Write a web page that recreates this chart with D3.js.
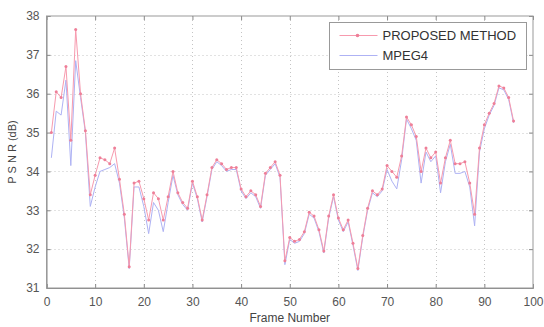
<!DOCTYPE html>
<html>
<head>
<meta charset="utf-8">
<script src="https://cdn.jsdelivr.net/npm/d3@7"></script>
<style>
  body { margin: 0; background: #fff; }
  text { font-family: "Liberation Sans", Arial, sans-serif; }
</style>
</head>
<body>
<script>

// Frame numbers 1..96
const frames = d3.range(1, 97)

// PSNR of the proposed method (dB)
const proposed = [
  35.0, 36.05, 35.9, 36.7, 34.8, 37.65, 36.0, 35.05, 33.4, 33.9,
  34.35, 34.3, 34.2, 34.6, 33.8, 32.9, 31.55, 33.7, 33.75, 33.3,
  32.75, 33.45, 33.3, 32.75, 33.35, 34.0, 33.45, 33.2, 33.05, 33.75,
  33.35, 32.75, 33.4, 34.1, 34.3, 34.2, 34.05, 34.1, 34.1, 33.55,
  33.35, 33.5, 33.4, 33.1, 33.95, 34.1, 34.25, 33.9, 31.7, 32.3,
  32.2, 32.25, 32.45, 32.95, 32.85, 32.5, 31.95, 32.85, 33.4, 32.8,
  32.5, 32.75, 32.15, 31.5, 32.35, 33.05, 33.5, 33.4, 33.55, 34.15,
  34.0, 33.85, 34.4, 35.4, 35.2, 34.9, 34.0, 34.6, 34.35, 34.5,
  33.7, 34.35, 34.8, 34.2, 34.2, 34.25, 33.7, 32.9, 34.6, 35.2,
  35.5, 35.75, 36.2, 36.15, 35.9, 35.3
]

// PSNR of MPEG4 (dB)
const mpeg4 = [
  34.35, 35.55, 35.45, 36.35, 34.15, 36.85, 35.9, 35.0, 33.1, 33.6,
  34.0, 34.05, 34.1, 34.2, 33.7, 32.8, 31.5, 33.6, 33.6, 33.1,
  32.4, 33.2, 33.0, 32.45, 33.2, 33.9, 33.4, 33.15, 33.0, 33.7,
  33.3, 32.7, 33.35, 34.05, 34.25, 34.15, 34.0, 34.05, 34.05, 33.5,
  33.3, 33.45, 33.35, 33.05, 33.9, 34.05, 34.2, 33.85, 31.6, 32.25,
  32.15, 32.2, 32.4, 32.9, 32.8, 32.45, 31.9, 32.8, 33.35, 32.75,
  32.45, 32.7, 32.1, 31.45, 32.3, 33.0, 33.45, 33.35, 33.5, 34.05,
  33.75, 33.55, 34.3, 35.35, 35.1, 34.8, 33.7, 34.5, 34.25, 34.4,
  33.45, 34.25, 34.7, 33.95, 33.95, 34.0, 33.6, 32.6, 34.5, 35.1,
  35.45, 35.7, 36.15, 36.1, 35.85, 35.25
]

const xTicks = d3.range(0, 101, 10)
const yTicks = d3.range(31, 39, 1)
const seriesNames = ["PROPOSED METHOD", "MPEG4"]


const WIDTH = 544, HEIGHT = 327
const LEFT = 46.5, RIGHT = 533, TOP = 16, BOTTOM = 288

const RED = "#f79aae", BLUE = "#aeb2f4", DOT = "#ee7f98"

let svg = d3.select("body").append("svg")
    .attr("width", WIDTH)
    .attr("height", HEIGHT)

let x = d3.scaleLinear().domain([0, 100]).range([LEFT, RIGHT])
let y = d3.scaleLinear().domain([31, 38]).range([BOTTOM, TOP])

// dotted grid
let grid = svg.append("g")
    .attr("stroke", "#c4c4c4")
    .attr("stroke-width", 1)
    .attr("stroke-dasharray", "1,3")

grid.selectAll("line.gx")
    .data(xTicks.slice(1, -1))
    .enter()
    .append("line")
        .attr("x1", d => Math.round(x(d)) + 0.5)
        .attr("x2", d => Math.round(x(d)) + 0.5)
        .attr("y1", TOP)
        .attr("y2", BOTTOM)

grid.selectAll("line.gy")
    .data(yTicks.slice(1, -1))
    .enter()
    .append("line")
        .attr("x1", LEFT)
        .attr("x2", RIGHT)
        .attr("y1", d => Math.round(y(d)) + 0.5)
        .attr("y2", d => Math.round(y(d)) + 0.5)

// axes
let fmt = d3.format("d")

svg.append("g")
    .attr("transform", "translate(0," + BOTTOM + ")")
    .call(d3.axisBottom(x).tickValues(xTicks).tickFormat(fmt).tickSize(-4).tickPadding(9))

svg.append("g")
    .attr("transform", "translate(" + LEFT + ",0)")
    .call(d3.axisLeft(y).tickValues(yTicks).tickFormat(fmt).tickSize(-4).tickPadding(7))

// top and right ticks
svg.append("g")
    .attr("transform", "translate(0," + TOP + ")")
    .call(d3.axisTop(x).tickValues(xTicks).tickSize(-4).tickFormat(""))
    .select(".domain").remove()
svg.append("g")
    .attr("transform", "translate(" + RIGHT + ",0)")
    .call(d3.axisRight(y).tickValues(yTicks).tickSize(-4).tickFormat(""))
    .select(".domain").remove()

svg.selectAll(".tick line").attr("stroke", "#888")
svg.selectAll(".domain").attr("stroke", "#888")
svg.selectAll(".tick text")
    .attr("fill", "#555")
    .attr("font-size", 12)
    .attr("font-family", "Liberation Sans, Arial, sans-serif")

// box
svg.append("rect")
    .attr("x", LEFT)
    .attr("y", TOP)
    .attr("width", RIGHT - LEFT)
    .attr("height", BOTTOM - TOP)
    .attr("fill", "none")
    .attr("stroke", "#999")

// axis titles
svg.append("text")
    .attr("x", (LEFT + RIGHT) / 2)
    .attr("y", 322)
    .attr("text-anchor", "middle")
    .attr("font-size", 12)
    .attr("fill", "#444")
    .text("Frame Number")

svg.append("text")
    .attr("transform", "translate(16," + ((TOP + BOTTOM) / 2) + ") rotate(-90)")
    .attr("text-anchor", "middle")
    .attr("font-size", 11)
    .attr("fill", "#444")
    .text("P S N R (dB)")

// series
let line = d3.line()
    .x((d, i) => x(frames[i]))
    .y(d => y(d))

svg.append("path")
    .datum(mpeg4)
    .attr("d", line)
    .attr("fill", "none")
    .attr("stroke", BLUE)
    .attr("stroke-width", 1)

svg.append("path")
    .datum(proposed)
    .attr("d", line)
    .attr("fill", "none")
    .attr("stroke", RED)
    .attr("stroke-width", 1)

svg.append("g")
    .selectAll("circle")
    .data(proposed)
    .enter()
    .append("circle")
        .attr("cx", (d, i) => x(frames[i]))
        .attr("cy", d => y(d))
        .attr("r", 1.5)
        .attr("fill", DOT)

// legend
let legend = svg.append("g")
    .attr("transform", "translate(329.5,22.5)")

legend.append("rect")
    .attr("width", 197)
    .attr("height", 47)
    .attr("fill", "#fff")
    .attr("stroke", "#999")

let items = legend.selectAll("g")
    .data(seriesNames)
    .enter()
    .append("g")
        .attr("transform", (d, i) => "translate(0," + (13 + i * 20) + ")")

items.append("line")
    .attr("x1", 10)
    .attr("x2", 48)
    .attr("stroke", (d, i) => i === 0 ? RED : BLUE)

items.filter((d, i) => i === 0)
    .append("circle")
        .attr("cx", 28)
        .attr("r", 1.8)
        .attr("fill", DOT)

items.append("text")
    .attr("x", 53)
    .attr("dy", "0.35em")
    .attr("font-size", 13)
    .attr("fill", "#333")
    .text(d => d)

</script>
</body>
</html>
